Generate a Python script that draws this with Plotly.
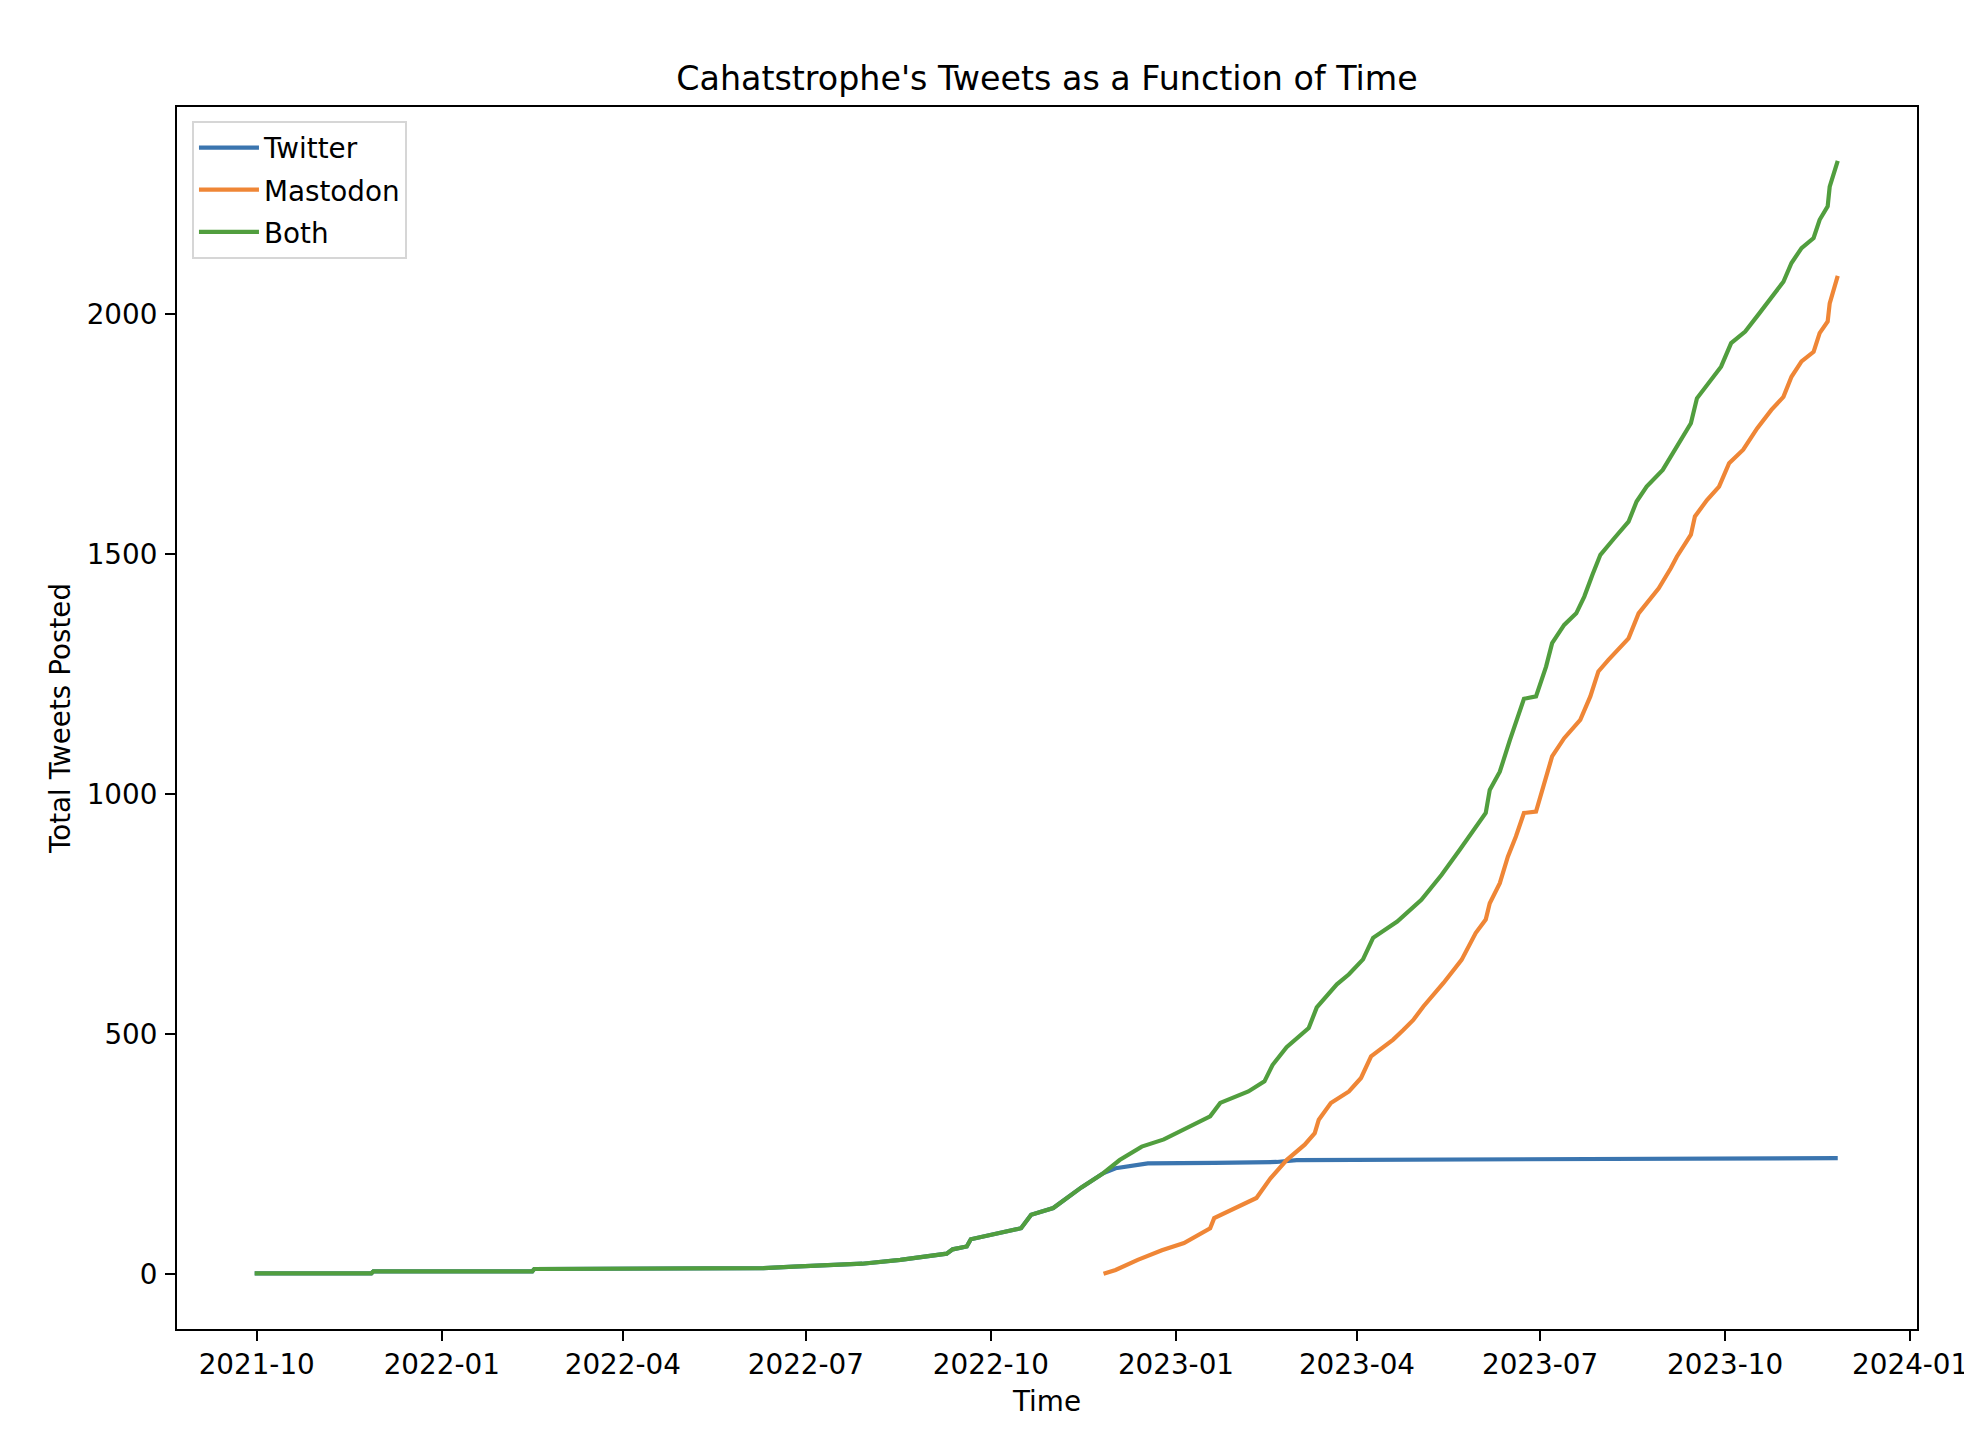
import plotly.graph_objects as go

# ---------------- data ----------------
both_dates = [
    "2021-09-30", "2021-11-27", "2021-11-28", "2022-02-15", "2022-02-16",
    "2022-06-10", "2022-06-25", "2022-07-29", "2022-08-17", "2022-08-31",
    "2022-09-09", "2022-09-12", "2022-09-19", "2022-09-21", "2022-10-16",
    "2022-10-21", "2022-11-01", "2022-11-15", "2022-11-26", "2022-12-04",
    "2022-12-15", "2022-12-26", "2023-01-05", "2023-01-18", "2023-01-23",
    "2023-02-06", "2023-02-14", "2023-02-18", "2023-02-25", "2023-03-08",
    "2023-03-12", "2023-03-22", "2023-03-28", "2023-04-04", "2023-04-09",
    "2023-04-21", "2023-05-03", "2023-05-13", "2023-05-22", "2023-05-30",
    "2023-06-04", "2023-06-06", "2023-06-11", "2023-06-16", "2023-06-20",
    "2023-06-23", "2023-06-29", "2023-07-04", "2023-07-07", "2023-07-13",
    "2023-07-19", "2023-07-23", "2023-07-27", "2023-07-31", "2023-08-07",
    "2023-08-14", "2023-08-18", "2023-08-23", "2023-08-31", "2023-09-05",
    "2023-09-08", "2023-09-14", "2023-09-17", "2023-09-22", "2023-09-29",
    "2023-10-04", "2023-10-11", "2023-10-18", "2023-10-26", "2023-10-30",
    "2023-11-03", "2023-11-08", "2023-11-14", "2023-11-17", "2023-11-21",
    "2023-11-22", "2023-11-26",
]
both_values = [
    1, 1, 5, 5, 10,
    12, 15, 21, 29, 36,
    42, 51, 57, 72, 95,
    123, 137, 180, 210, 237,
    265, 280, 300, 328, 356,
    380, 401, 435, 472, 512,
    555, 603, 624, 655, 700,
    734, 779, 831, 883, 932,
    960, 1008, 1046, 1112, 1161,
    1198, 1203, 1265, 1314, 1352,
    1376, 1411, 1456, 1498, 1533,
    1567, 1609, 1640, 1675, 1710,
    1734, 1772, 1824, 1852, 1890,
    1939, 1963, 2001, 2046, 2067,
    2106, 2137, 2158, 2196, 2224,
    2265, 2319,
]

twitter_dates = [
    "2021-09-30", "2021-11-27", "2021-11-28", "2022-02-15", "2022-02-16",
    "2022-06-10", "2022-06-25", "2022-07-29", "2022-08-17", "2022-08-31",
    "2022-09-09", "2022-09-12", "2022-09-19", "2022-09-21", "2022-10-16",
    "2022-10-21", "2022-11-01", "2022-11-15", "2022-11-26", "2022-12-02",
    "2022-12-09", "2022-12-18", "2023-01-20", "2023-02-20", "2023-03-02",
    "2023-06-01", "2023-11-26",
]
twitter_values = [
    1, 1, 5, 5, 10,
    12, 15, 21, 29, 36,
    42, 51, 57, 72, 95,
    123, 137, 180, 210, 220,
    225, 230, 231, 233, 237,
    238, 241,
]

mastodon_dates = [
    "2022-11-26", "2022-12-02", "2022-12-13", "2022-12-25", "2023-01-05",
    "2023-01-18", "2023-01-20", "2023-01-30", "2023-02-10", "2023-02-17",
    "2023-02-25", "2023-03-06", "2023-03-11", "2023-03-13", "2023-03-19",
    "2023-03-28", "2023-04-03", "2023-04-08", "2023-04-19", "2023-04-24",
    "2023-04-29", "2023-05-04", "2023-05-14", "2023-05-23", "2023-05-26",
    "2023-05-30", "2023-06-04", "2023-06-06", "2023-06-11", "2023-06-15",
    "2023-06-19", "2023-06-23", "2023-06-29", "2023-07-04", "2023-07-07",
    "2023-07-13", "2023-07-21", "2023-07-26", "2023-07-30", "2023-08-04",
    "2023-08-14", "2023-08-19", "2023-08-29", "2023-09-04", "2023-09-07",
    "2023-09-14", "2023-09-16", "2023-09-22", "2023-09-28", "2023-10-03",
    "2023-10-10", "2023-10-17", "2023-10-24", "2023-10-30", "2023-11-03",
    "2023-11-08", "2023-11-14", "2023-11-17", "2023-11-21", "2023-11-22",
    "2023-11-26",
]
mastodon_values = [
    0, 8, 29, 49, 64,
    95, 116, 137, 158, 199,
    237, 269, 293, 321, 356,
    380, 408, 453, 488, 508,
    529, 557, 606, 654, 677,
    710, 738, 772, 814, 869,
    911, 960, 963, 1033, 1078,
    1116, 1154, 1203, 1255, 1279,
    1324, 1376, 1428, 1470, 1494,
    1540, 1578, 1612, 1640, 1689,
    1717, 1762, 1800, 1827, 1869,
    1901, 1921, 1960, 1984, 2022,
    2079,
]

x_tick_vals = ["2021-10-01", "2022-01-01", "2022-04-01", "2022-07-01", "2022-10-01",
               "2023-01-01", "2023-04-01", "2023-07-01", "2023-10-01", "2024-01-01"]
x_tick_text = ["2021-10", "2022-01", "2022-04", "2022-07", "2022-10",
               "2023-01", "2023-04", "2023-07", "2023-10", "2024-01"]
y_tick_vals = [0, 500, 1000, 1500, 2000]

# ---------------- figure ----------------
FONT = "DejaVu Sans"
BLUE, ORANGE, GREEN = "#3b75af", "#ef8636", "#519e3e"
LW = 4.2

fig = go.Figure()
fig.add_trace(go.Scatter(x=twitter_dates, y=twitter_values, mode="lines",
                         name="Twitter", legendgroup="t",
                         line=dict(color=BLUE, width=LW)))
fig.add_trace(go.Scatter(x=mastodon_dates, y=mastodon_values, mode="lines",
                         name="Mastodon", legendgroup="m",
                         line=dict(color=ORANGE, width=LW)))
fig.add_trace(go.Scatter(x=both_dates, y=both_values, mode="lines",
                         name="Both", legendgroup="b",
                         line=dict(color=GREEN, width=LW)))

axis_common = dict(
    showline=True, linecolor="black", linewidth=2, mirror=True,
    ticks="outside", ticklen=10, tickwidth=2, tickcolor="black",
    showgrid=False, zeroline=False,
    tickfont=dict(family=FONT, size=27.8, color="black"),
)

# the page places the figure 8 px in from the top-left corner
fig.update_layout(
    width=1972, height=1452,
    margin=dict(l=169, r=59, t=99, b=131, pad=0),
    paper_bgcolor="white", plot_bgcolor="white",
    font=dict(family=FONT, size=27.8, color="black"),
    title=dict(text="Cahatstrophe's Tweets as a Function of Time",
               font=dict(family=FONT, size=33.3, color="black"),
               x=0.5, xref="paper", xanchor="center",
               y=1 - 70 / 1452, yref="container", yanchor="middle"),
    xaxis=dict(axis_common, type="date",
               range=["2021-08-22 09:00", "2024-01-04 09:40"],
               tickmode="array", tickvals=x_tick_vals, ticktext=x_tick_text,
               ticklabelstandoff=0,
               title=dict(text="Time", standoff=11,
                          font=dict(family=FONT, size=27.8, color="black"))),
    yaxis=dict(axis_common, range=[-115, 2431],
               tickmode="array", tickvals=y_tick_vals,
               ticklabelstandoff=2,
               title=dict(text="Total Tweets Posted", standoff=8,
                          font=dict(family=FONT, size=27.8, color="black"))),
    legend=dict(x=(192 - 177) / 1744, y=1 - (121 - 107) / 1222,
                xanchor="left", yanchor="top",
                bgcolor="rgba(255,255,255,0.8)", bordercolor="#d6d6d6", borderwidth=2,
                font=dict(family=FONT, size=27.8, color="black"),
                itemwidth=60, tracegroupgap=3),
    showlegend=True,
)

fig.write_html("out.html")
